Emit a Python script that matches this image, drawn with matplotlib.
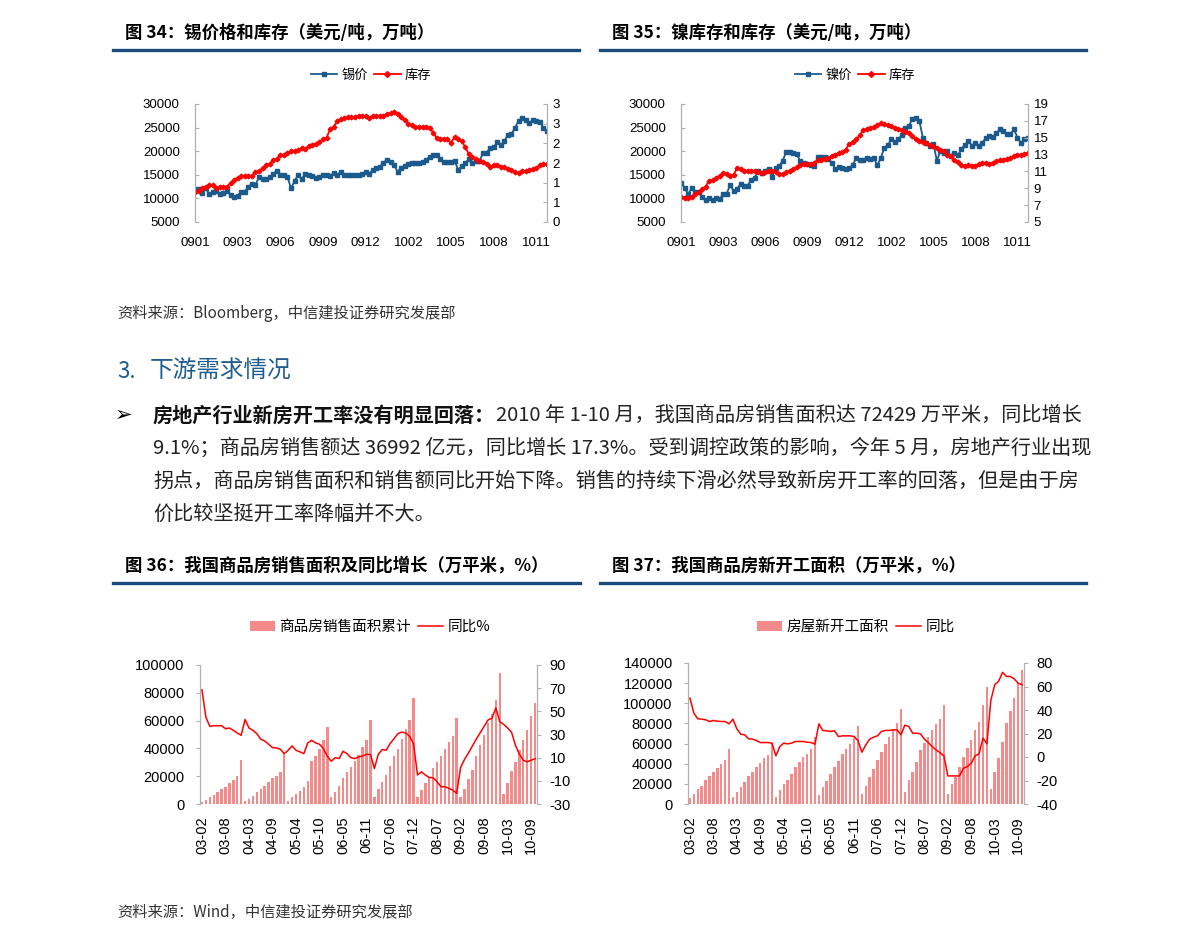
import matplotlib
matplotlib.use('Agg')
import matplotlib.pyplot as plt
from matplotlib.lines import Line2D
from matplotlib.patches import Patch

plt.rcParams['font.family'] = ['Noto Sans CJK SC', 'DejaVu Sans']
plt.rcParams['axes.unicode_minus'] = False

# ---- 数据 ----
# 周度数据 0901 - 1011
week_labels = ['0901', '0903', '0906', '0909', '0912', '1002', '1005', '1008', '1011']

tin_price = [12000, 12000, 11100, 12100, 11000, 11300, 11600, 11000, 11200, 11600,
             10700, 10300, 10600, 11400, 11400, 12500, 13000, 12900, 14500, 14100,
             14100, 14600, 15100, 15900, 15000, 15000, 14600, 12100, 13700, 15000,
             14100, 15100, 15000, 14800, 14400, 14600, 14900, 15000, 14700, 15400,
             15000, 15600, 15000, 15000, 15000, 15000, 15000, 15100, 15500, 15100,
             16100, 16400, 16700, 17600, 18200, 17800, 17100, 15600, 16500, 16900,
             17200, 17400, 17600, 17600, 17700, 18200, 18800, 19300, 19100, 18300,
             17800, 17700, 17700, 18000, 16100, 16800, 17500, 18300, 17400, 17900,
             17900, 19600, 19700, 20700, 20900, 21900, 21300, 22100, 23500, 23700,
             24900, 26500, 27000, 26600, 25900, 26600, 26400, 26200, 25000, 24300]

tin_stock = [0.77, 0.80, 0.86, 0.90, 0.93, 0.93, 0.87, 0.90, 0.90, 0.90,
             0.99, 1.07, 1.11, 1.16, 1.18, 1.16, 1.18, 1.27, 1.29, 1.37,
             1.44, 1.48, 1.57, 1.60, 1.71, 1.71, 1.75, 1.80, 1.80, 1.84,
             1.87, 1.86, 1.93, 1.97, 1.99, 2.03, 2.10, 2.14, 2.36, 2.42,
             2.57, 2.61, 2.64, 2.66, 2.66, 2.67, 2.70, 2.70, 2.70, 2.65,
             2.69, 2.70, 2.70, 2.70, 2.74, 2.76, 2.80, 2.74, 2.66, 2.59,
             2.50, 2.46, 2.42, 2.42, 2.42, 2.42, 2.40, 2.27, 2.13, 2.12,
             2.12, 2.10, 2.01, 2.16, 2.10, 2.06, 1.90, 1.73, 1.65, 1.60,
             1.56, 1.52, 1.48, 1.40, 1.46, 1.44, 1.41, 1.39, 1.35, 1.33,
             1.26, 1.24, 1.29, 1.29, 1.33, 1.35, 1.37, 1.46, 1.48, 1.47]

nickel_price = [13200, 12300, 10900, 12100, 11400, 11400, 10400, 9600, 10000, 9600,
                10000, 9800, 10900, 10900, 12900, 11600, 12000, 13100, 12600, 12700,
                13900, 14400, 15700, 15400, 15900, 16300, 14500, 16400, 16800, 18000,
                19800, 19800, 19600, 19400, 17900, 17500, 17300, 17000, 16900, 18700,
                18800, 18700, 18400, 17500, 16300, 16600, 16400, 16200, 16400, 17100,
                18600, 18200, 18100, 18600, 18400, 18600, 17000, 18600, 20700, 21300,
                22500, 21900, 22500, 23400, 25000, 25400, 26800, 27100, 26400, 22900,
                21800, 21200, 21600, 18000, 20000, 19600, 20000, 18900, 19600, 19100,
                20400, 21400, 22100, 21200, 21800, 21200, 21800, 22900, 23200, 23000,
                23900, 24600, 24300, 23600, 23600, 24600, 22900, 21800, 22500, 22900]

nickel_stock = [8.0, 7.9, 7.8, 8.0, 8.3, 8.6, 8.9, 9.2, 9.9, 10.0,
                10.2, 10.5, 10.8, 10.7, 10.5, 10.6, 11.4, 11.3, 11.1, 11.1,
                11.0, 11.0, 10.9, 10.8, 10.9, 11.0, 11.1, 10.9, 10.7, 10.7,
                10.9, 11.1, 11.3, 11.5, 11.8, 11.9, 11.9, 11.9, 12.0, 12.3,
                12.4, 12.5, 12.6, 12.8, 13.0, 13.2, 13.3, 13.6, 14.3, 14.5,
                14.8, 15.3, 15.9, 16.0, 16.2, 16.3, 16.5, 16.7, 16.6, 16.5,
                16.4, 16.1, 16.0, 15.9, 15.7, 15.6, 15.2, 14.8, 14.6, 14.5,
                14.4, 14.1, 14.0, 13.8, 13.6, 13.4, 13.0, 12.8, 12.3, 12.1,
                11.8, 11.7, 11.8, 11.7, 11.7, 11.9, 12.0, 12.0, 11.9, 12.0,
                12.2, 12.3, 12.4, 12.5, 12.6, 12.8, 12.9, 13.0, 13.1, 13.2]

# 月度累计数据 03-02 - 10-10（每年 2-12 月）
month_labels = ['03-02', '03-08', '04-03', '04-09', '05-04', '05-10', '06-05', '06-11',
                '07-06', '07-12', '08-07', '09-02', '09-08', '10-03', '10-09']

sales_area = [1670, 3100, 5000, 6400, 8350, 10700, 12400, 15300, 17400, 20000, 32000,
              2150, 3800, 5700, 8350, 10500, 13100, 15500, 18400, 20500, 23200, 36300,
              2150, 5000, 7160, 9070, 12400, 16500, 30800, 34400, 39400, 45800, 55400,
              5000, 8800, 13100, 18400, 22700, 26700, 30800, 35600, 41000, 46300, 60100,
              5250, 10700, 15500, 20800, 27400, 34400, 39900, 47000, 53700, 60400, 76100,
              5000, 10000, 14800, 19600, 26000, 30100, 34400, 39900, 44600, 48700, 61800,
              5000, 10700, 17700, 24600, 34400, 42200, 49400, 58200, 64900, 74500, 94000,
              7400, 15000, 23400, 30100, 38700, 46300, 53000, 63000, 72400]

sales_yoy = [68.5, 45, 37, 37.6, 37.6, 37.6, 35, 35.6, 33.6, 31.3, 29.3,
             43, 35.6, 33.6, 30.7, 26, 24.4, 21.6, 18.7, 18.4, 17.3, 13.5,
             16.4, 20.1, 16.4, 15, 13.5, 22.7, 25, 22.7, 21.6, 17.8, 11.2,
             6.9, 10, 9.2, 15.5, 13.5, 10, 9.2, 10.7, 11.5, 12.9, 12.7,
             0.6, 12.9, 17, 16.4, 22.1, 26.4, 30.7, 32.1, 31.3, 28.4, 22,
             -5, -2.2, -5, -7.1, -7.4, -10.8, -15.1, -15.1, -16.5, -18, -20.8,
             1.5, 8.5, 14, 20, 26, 31.5, 37, 42.5, 44, 53, 41,
             38.7, 35.6, 32, 20.7, 13, 7.8, 6.4, 7.8, 9.1]

start_area = [5600, 9950, 14600, 18200, 23900, 27900, 32200, 35500, 39500, 43800, 54700,
              7000, 12300, 17300, 21600, 27900, 32200, 37200, 40500, 45400, 48800, 60400,
              7000, 13900, 19600, 23900, 29500, 36500, 41500, 46400, 49800, 54400, 66400,
              8600, 17300, 22900, 29500, 37200, 42800, 49400, 54400, 59400, 65400, 77600,
              9950, 17900, 26500, 34800, 43800, 52100, 59400, 66400, 74600, 80300, 94200,
              12300, 23900, 32200, 41500, 53700, 60400, 66400, 73600, 79600, 84300, 98500,
              9950, 19900, 26500, 37200, 47100, 55400, 63700, 73600, 81900, 98200, 115800,
              14900, 32200, 45400, 62000, 80900, 92500, 105200, 120000, 132700]

start_yoy = [50.1, 37.3, 32.5, 32.2, 31.7, 30.2, 31.1, 30.5, 30.2, 30.2, 28.2,
             32.2, 24, 19.4, 18.9, 15.5, 15.2, 14, 12.3, 12.3, 12.3, 11.8,
             1, 8.9, 11.8, 11.2, 11.8, 13.2, 13.2, 13.2, 12.6, 12.3, 10.9,
             28.2, 22.6, 22.3, 21.7, 22.3, 17.4, 18, 18, 18, 17.4, 14,
             4.1, 10.3, 15.2, 16.9, 18, 21.7, 22.6, 22.6, 23.1, 23.1, 18.9,
             27.1, 26, 20.3, 20.3, 19.7, 15.2, 12.3, 8.9, 6, 3.8, 1,
             -16.1, -16.1, -16.1, -16.1, -9.6, -8.2, -5.3, 1, 2.7, 16, 11.2,
             48, 61.5, 64.4, 72, 68.6, 68.6, 66.4, 62.9, 61.5]

BLUE = '#1B5A8A'
RED = '#FF0000'
PINK = '#F58A8A'
RULE = '#1A4A7A'
HEAD = '#1F5C8F'
GRAY = '#B0B0B0'
NUM = 'Liberation Sans'

W, H = 1191, 941
fig = plt.figure(figsize=(W / 100, H / 100), dpi=100)


def box(l, t, r, b):
    return [l / W, 1 - b / H, (r - l) / W, (b - t) / H]


def ftext(x, y, s, **kw):
    fig.text(x / W, 1 - y / H, s, va='center', **kw)


def rule(x0, x1, y):
    fig.add_artist(Line2D([x0 / W, x1 / W], [1 - y / H, 1 - y / H],
                          color=RULE, lw=2.4, transform=fig.transFigure))


def style_axes(ax, ax2, size, lpad, rpad, direction):
    for a in (ax, ax2):
        for side in ('top', 'bottom'):
            a.spines[side].set_visible(False)
        a.spines['left'].set_color(GRAY)
        a.spines['right'].set_color(GRAY)
    ax.tick_params(axis='y', direction=direction, length=3, color=GRAY, labelsize=size, pad=lpad)
    ax2.tick_params(axis='y', direction=direction, length=3, color=GRAY, labelsize=size, pad=rpad)
    ax.tick_params(axis='x', length=0, labelsize=size)
    for a in (ax, ax2):
        for lab in a.get_xticklabels() + a.get_yticklabels():
            lab.set_fontfamily(NUM)


# ---- 图 34 / 35 ----
def top_chart(pos, price, stock, name, rticks, rlabels, rlim, leg_x):
    ax = fig.add_axes(pos)
    ax2 = ax.twinx()
    x = list(range(len(price)))
    ax.plot(x, price, color=BLUE, lw=1.3, marker='s', ms=2.6)
    ax2.plot(x, stock, color=RED, lw=1.3, marker='D', ms=2.4)
    ax.set_xlim(0, len(price) - 1)
    ax.set_ylim(5000, 30000)
    ax.set_yticks([5000, 10000, 15000, 20000, 25000, 30000])
    ax2.set_ylim(*rlim)
    ax2.set_yticks(rticks)
    ax2.set_yticklabels(rlabels)
    ax.set_xticks(range(0, 97, 12))
    ax.set_xticklabels(week_labels)
    ax.tick_params(axis='x', pad=11)
    style_axes(ax, ax2, 9.5, 11, 4, 'in')
    handles = [Line2D([], [], color=BLUE, lw=1.3, marker='s', ms=3),
               Line2D([], [], color=RED, lw=1.3, marker='D', ms=3)]
    fig.legend(handles, [name, '库存'], loc='center', bbox_to_anchor=(leg_x / W, 1 - 75 / H),
               ncol=2, frameon=False, fontsize=9.5, handlelength=2.0,
               handletextpad=0.3, columnspacing=0.5)


top_chart(box(195, 104, 547, 222), tin_price, tin_stock, '锡价',
          [0, 0.5, 1, 1.5, 2, 2.5, 3], ['0', '1', '1', '2', '2', '3', '3'], (0, 3), 371)
top_chart(box(681, 104, 1028, 222), nickel_price, nickel_stock, '镍价',
          [5, 7, 9, 11, 13, 15, 17, 19], ['5', '7', '9', '11', '13', '15', '17', '19'], (5, 19), 855)


# ---- 图 36 / 37 ----
def bottom_chart(pos, area, yoy, lticks, rticks, names, leg_x):
    ax = fig.add_axes(pos)
    ax2 = ax.twinx()
    x = list(range(len(area)))
    ax.bar(x, area, width=0.62, color=PINK)
    ax2.plot(x, yoy, color=RED, lw=1.1)
    ax.set_xlim(-0.5, len(area) - 0.5)
    ax.set_ylim(lticks[0], lticks[-1])
    ax.set_yticks(lticks)
    ax2.set_ylim(rticks[0], rticks[-1])
    ax2.set_yticks(rticks)
    ax.set_xticks(range(0, 85, 6))
    ax.set_xticklabels(month_labels, rotation=90)
    ax.tick_params(axis='x', pad=9)
    style_axes(ax, ax2, 10.5, 8, 6, 'out')
    handles = [Patch(facecolor=PINK), Line2D([], [], color=RED, lw=1.1)]
    fig.legend(handles, names, loc='center', bbox_to_anchor=(leg_x / W, 1 - 627 / H),
               ncol=2, frameon=False, fontsize=10.5, handlelength=1.7, handleheight=0.7,
               handletextpad=0.3, columnspacing=0.5)


bottom_chart(box(200, 665, 537, 804), sales_area, sales_yoy,
             [0, 20000, 40000, 60000, 80000, 100000], [-30, -10, 10, 30, 50, 70, 90],
             ['商品房销售面积累计', '同比%'], 370)
bottom_chart(box(688, 663, 1024, 804), start_area, start_yoy,
             [0, 20000, 40000, 60000, 80000, 100000, 120000, 140000],
             [-40, -20, 0, 20, 40, 60, 80], ['房屋新开工面积', '同比'], 856)

# ---- 标题、正文 ----
ftext(125, 33, '图 34：锡价格和库存（美元/吨，万吨）', fontsize=12.5, fontweight='bold')
ftext(612, 33, '图 35：镍库存和库存（美元/吨，万吨）', fontsize=12.5, fontweight='bold')
rule(113, 579, 50)
rule(600, 1086, 50)

ftext(117, 313, '资料来源：Bloomberg，中信建投证券研究发展部', fontsize=11, style='italic', color='#333333')

ftext(117, 371, '3.', fontsize=16, color=HEAD)
ftext(150, 371, '下游需求情况', fontsize=17, color=HEAD)

ftext(115, 415, '➢', fontsize=15, family=['DejaVu Sans'])
ftext(153, 415, '房地产行业新房开工率没有明显回落：', fontsize=14.5, fontweight='bold', color='#111111')
ftext(496, 415, '2010 年 1-10 月，我国商品房销售面积达 72429 万平米，同比增长', fontsize=14.5, color='#222222')
ftext(153, 448, '9.1%；商品房销售额达 36992 亿元，同比增长 17.3%。受到调控政策的影响，今年 5 月，房地产行业出现',
      fontsize=14.5, color='#222222')
ftext(153, 481, '拐点，商品房销售面积和销售额同比开始下降。销售的持续下滑必然导致新房开工率的回落，但是由于房',
      fontsize=14.5, color='#222222')
ftext(153, 514, '价比较坚挺开工率降幅并不大。', fontsize=14.5, color='#222222')

ftext(125, 566, '图 36：我国商品房销售面积及同比增长（万平米，%）', fontsize=12.5, fontweight='bold')
ftext(612, 566, '图 37：我国商品房新开工面积（万平米，%）', fontsize=12.5, fontweight='bold')
rule(113, 580, 583)
rule(600, 1086, 583)

ftext(117, 912, '资料来源：Wind，中信建投证券研究发展部', fontsize=11, style='italic', color='#333333')

fig.savefig('out.png', dpi=100)
